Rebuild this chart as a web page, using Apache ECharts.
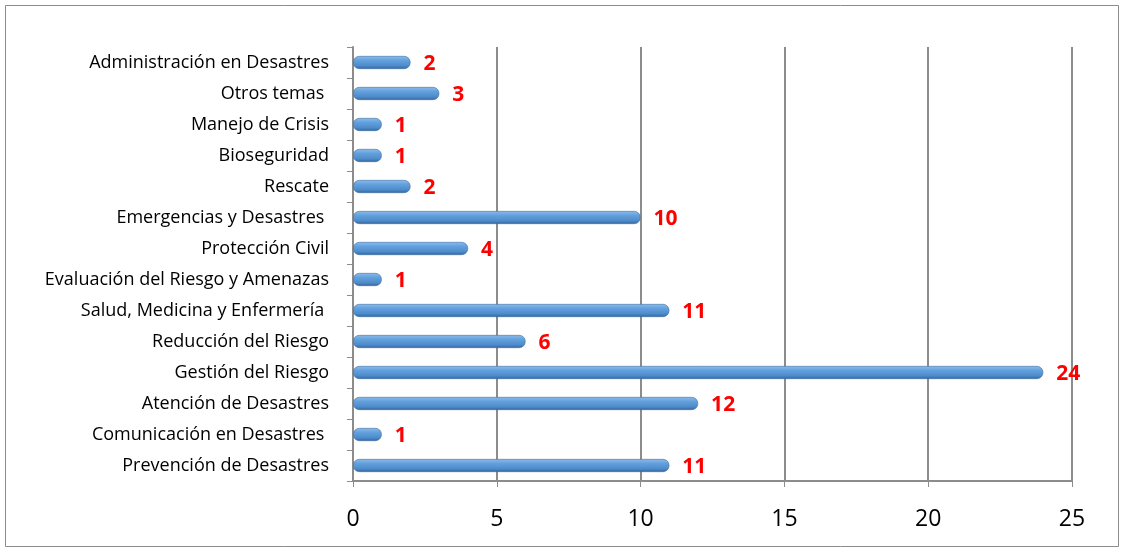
<!DOCTYPE html>
<html>
<head>
<meta charset="utf-8">
<script src="https://cdn.jsdelivr.net/npm/echarts@6/dist/echarts.min.js"></script>
<style>
html,body{margin:0;padding:0;background:#fff;}
#c{width:1124px;height:550px;}
</style>
</head>
<body>
<div id="c"></div>
<script>
// Categories listed bottom to top (ECharts category axis order)
const categories = [
  'Prevención de Desastres',
  'Comunicación en Desastres ',
  'Atención de Desastres',
  'Gestión del Riesgo',
  'Reducción del Riesgo',
  'Salud, Medicina y Enfermería ',
  'Evaluación del Riesgo y Amenazas',
  'Protección Civil',
  'Emergencias y Desastres ',
  'Rescate',
  'Bioseguridad',
  'Manejo de Crisis',
  'Otros temas ',
  'Administración en Desastres'
];
const values = [11, 1, 12, 24, 6, 11, 1, 4, 10, 2, 1, 1, 3, 2];
const xTicks = [0, 5, 10, 15, 20, 25];

const chart = echarts.init(document.getElementById('c'), null, {renderer: 'canvas'});
chart.setOption({
  backgroundColor: '#ffffff',
  animation: false,
  graphic: [{
    type: 'rect',
    shape: {x: 5.5, y: 5.5, width: 1113, height: 541},
    style: {fill: 'none', stroke: '#8c8c8c', lineWidth: 1},
    silent: true
  }],
  grid: {left: 353, top: 47, width: 719, height: 434, containLabel: false},
  xAxis: {
    type: 'value',
    min: xTicks[0],
    max: xTicks[xTicks.length - 1],
    interval: 5,
    axisLine: {show: true, lineStyle: {color: '#8c8c8c', width: 2}},
    axisTick: {show: true, length: 6, lineStyle: {color: '#8c8c8c', width: 1}},
    axisLabel: {color: '#000', fontFamily: 'Open Sans', fontSize: 23, margin: 27},
    splitLine: {show: true, lineStyle: {color: '#8c8c8c', width: 2}}
  },
  yAxis: {
    type: 'category',
    data: categories,
    axisLine: {show: true, lineStyle: {color: '#8c8c8c', width: 2}},
    axisTick: {show: true, length: 6, lineStyle: {color: '#8c8c8c', width: 1}},
    axisLabel: {color: '#000', fontFamily: 'Open Sans', fontSize: 18, margin: 24},
    splitLine: {show: false}
  },
  series: [{
    type: 'bar',
    data: values,
    barWidth: 13,
    itemStyle: {
      borderRadius: 6,
      borderColor: '#3b6ea5',
      borderWidth: 0.6,
      color: new echarts.graphic.LinearGradient(0, 0, 0, 1, [
        {offset: 0, color: '#8dbbe9'},
        {offset: 0.35, color: '#62a0dd'},
        {offset: 0.75, color: '#4f8bcb'},
        {offset: 1, color: '#32639b'}
      ])
    },
    label: {
      show: true,
      position: 'right',
      distance: 13,
      offset: [0, 2],
      color: '#ff0000',
      fontWeight: 'bold',
      fontFamily: 'Open Sans',
      fontSize: 21
    }
  }]
});
</script>
</body>
</html>
